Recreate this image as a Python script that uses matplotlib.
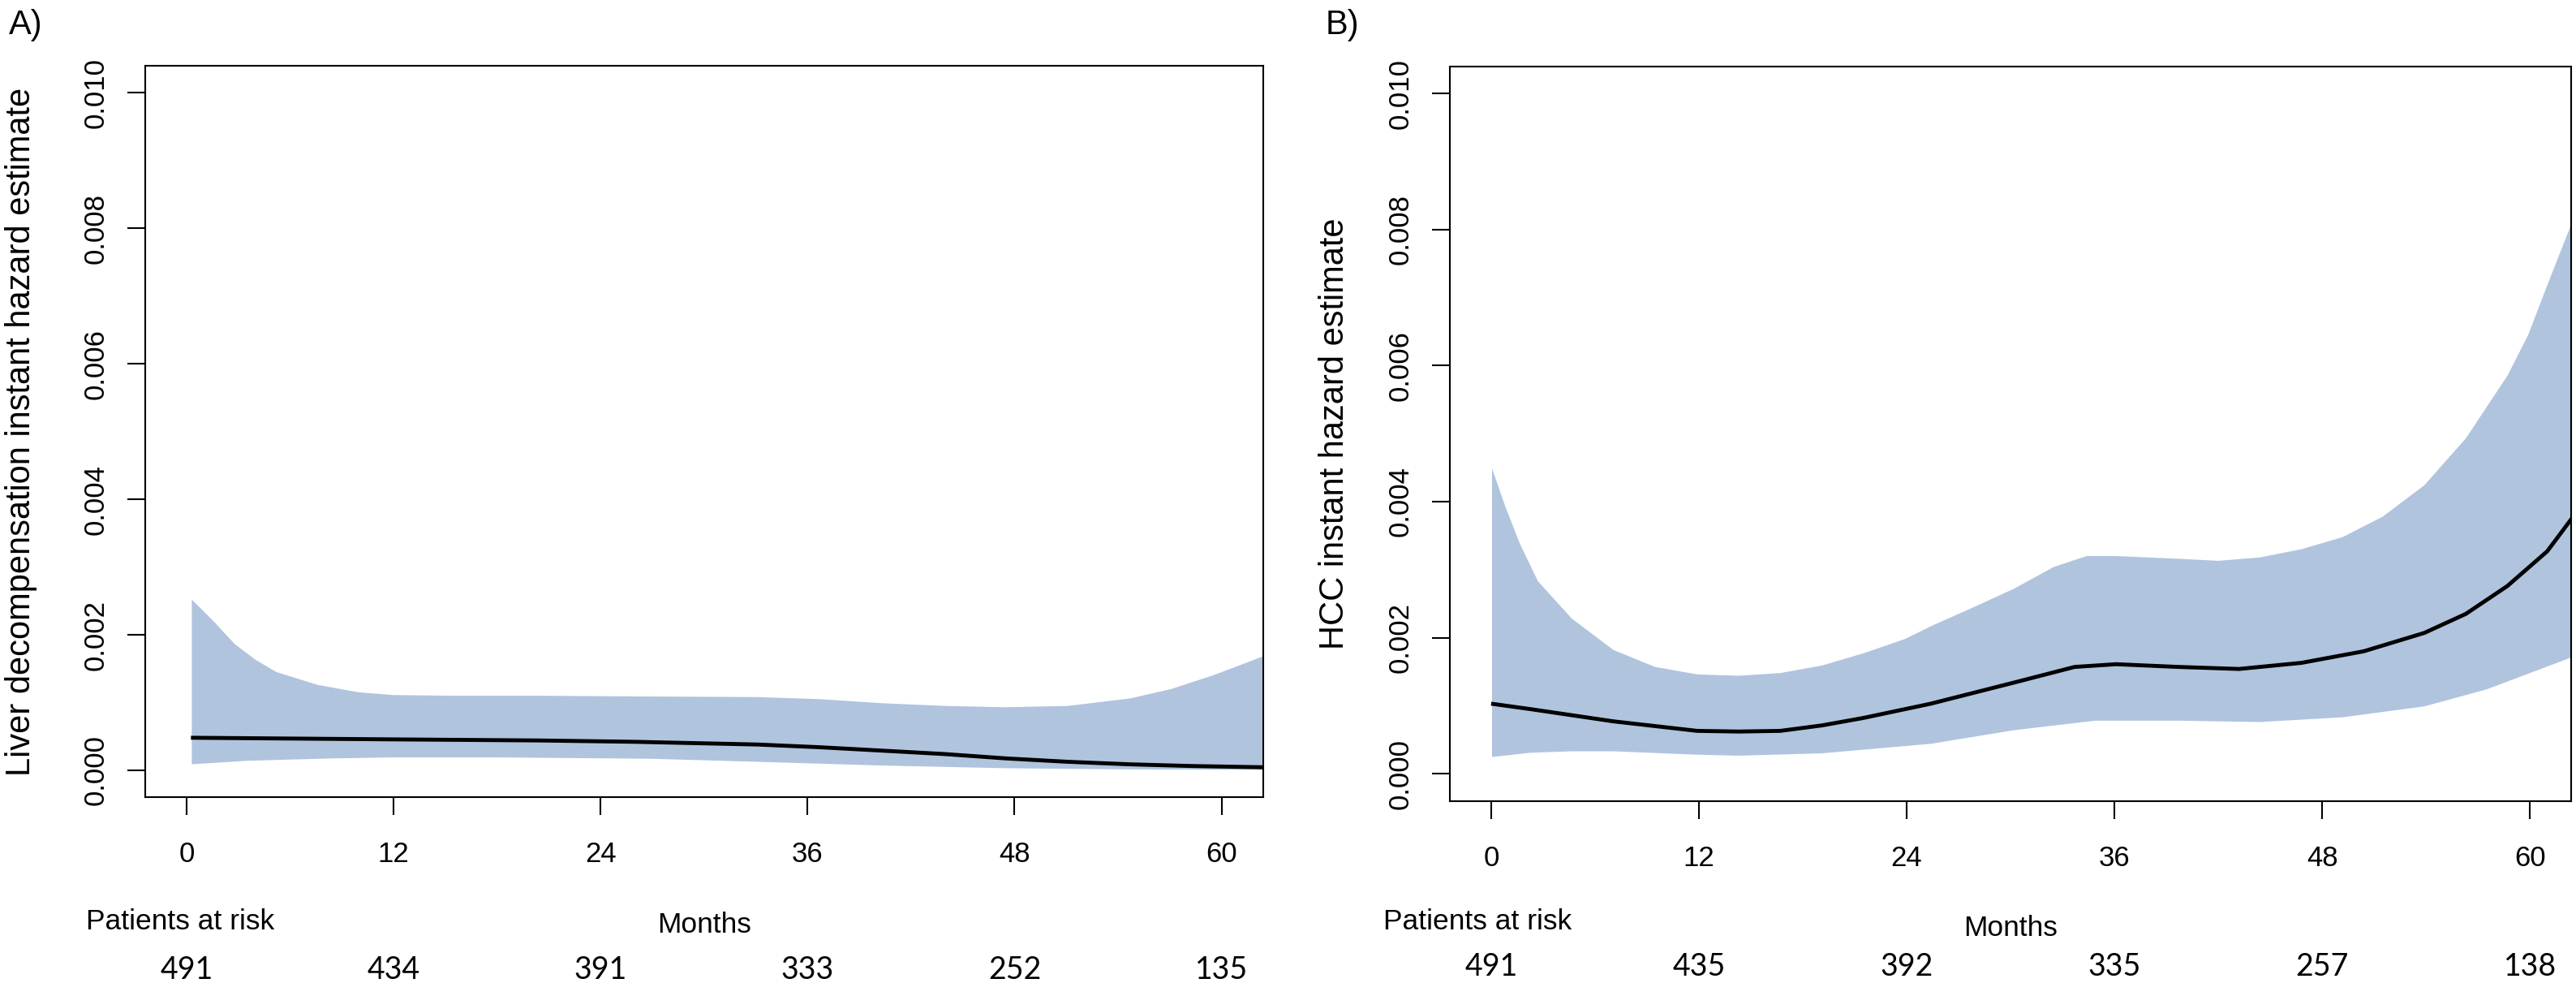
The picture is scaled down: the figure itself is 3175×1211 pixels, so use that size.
import matplotlib.pyplot as plt
import matplotlib.transforms as mtransforms
import numpy as np

# hazard curves (months, hazard)
a_up_x = [0.3, 1.6, 2.8, 4.0, 5.2, 7.6, 10.0, 12.0, 15.6, 20.4, 26.0, 33.1, 36.7, 40.3, 43.9, 47.5, 51.1, 54.7, 57.1, 59.5, 62.5]
a_up = [0.00252, 0.00219, 0.00186, 0.00163, 0.00145, 0.00126, 0.00115, 0.00111, 0.00110, 0.00110, 0.00109,
        0.00108, 0.00105, 0.00099, 0.00095, 0.00093, 0.00095, 0.00106, 0.00120, 0.00140, 0.00169]
a_lo_x = [0.3, 3.5, 8.4, 12.0, 18.0, 26.9, 33.1, 40.3, 47.5, 54.7, 62.5]
a_lo = [0.000088, 0.00014, 0.000175, 0.00019, 0.00019, 0.00017, 0.000125, 0.00007, 0.00003, 0.000013, 0.000006]
a_est_x = [0.25, 12.0, 20.4, 26.0, 33.1, 36.7, 40.3, 43.9, 47.5, 51.1, 54.7, 58.3, 62.5]
a_est = [0.00048, 0.000456, 0.00044, 0.00042, 0.00038, 0.00034, 0.00029, 0.00024, 0.000175, 0.000125,
         0.0000875, 0.0000625, 0.000044]

b_up_x = [0.05, 0.8, 1.66, 2.7, 4.66, 7.06, 9.46, 11.9, 14.3, 16.7, 19.1, 21.5, 23.9, 25.5, 27.8, 30.2, 32.5,
          34.4, 36.1, 39.7, 42.0, 44.4, 46.8, 49.2, 51.5, 53.9, 56.3, 58.7, 59.9, 61.0, 62.5]
b_up = [0.00449, 0.00394, 0.00338, 0.00283, 0.00228, 0.00182, 0.00157, 0.00146, 0.00144, 0.00148, 0.00159,
        0.00177, 0.00198, 0.00218, 0.00244, 0.00272, 0.00304, 0.0032, 0.0032, 0.00316, 0.00313, 0.00318,
        0.0033, 0.00348, 0.00378, 0.00424, 0.00493, 0.00585, 0.00645, 0.00718, 0.00815]
b_lo_x = [0.05, 2.26, 4.66, 7.06, 11.9, 14.3, 19.1, 25.4, 30.2, 34.9, 39.7, 44.4, 49.2, 53.9, 57.5, 62.5]
b_lo = [0.000246, 0.000308, 0.00033, 0.00033, 0.00028, 0.000265, 0.0003, 0.00044, 0.00064, 0.00078, 0.00078,
        0.00076, 0.00083, 0.00099, 0.00124, 0.00172]
b_est_x = [0.0, 2.26, 7.06, 11.9, 14.3, 16.7, 19.1, 21.5, 25.4, 30.2, 33.7, 36.1, 39.7, 43.2, 46.8, 50.4,
           53.9, 56.3, 58.7, 61.0, 62.5]
b_est = [0.00103, 0.00095, 0.00077, 0.00063, 0.00062, 0.00063, 0.00071, 0.00082, 0.00103, 0.00134, 0.00157,
         0.00161, 0.00157, 0.00154, 0.00163, 0.0018, 0.00207, 0.00235, 0.00276, 0.00327, 0.00378]

months = [0, 12, 24, 36, 48, 60]
a_risk = [491, 434, 391, 333, 252, 135]
b_risk = [491, 435, 392, 335, 257, 138]
y_ticks = [0.000, 0.002, 0.004, 0.006, 0.008, 0.010]

W, H = 3175, 1211
band = '#B0C4DE'
plt.rcParams['font.family'] = ['Liberation Sans', 'DejaVu Sans']

fig = plt.figure(figsize=(W / 100, H / 100), dpi=100)


def rect(l, t, r, b):
    return [l / W, 1 - b / H, (r - l) / W, (b - t) / H]


def panel(box, ux, uy, lx, ly, ex, ey, risk, ylab, tag, tag_x, lab_x, risk_base, months_base, par_x):
    ax = fig.add_axes(rect(*box))
    ax.fill(np.concatenate([ux, lx[::-1]]), np.concatenate([uy, ly[::-1]]), color=band, lw=0)
    ax.plot(ex, ey, color='black', lw=3.5, solid_capstyle='butt')
    ax.set_xlim(-2.4, 62.4)
    ax.set_ylim(-0.0004, 0.0104)
    ax.set_xticks(months)
    ax.set_yticks(y_ticks)
    ax.set_yticklabels(['%.3f' % v for v in y_ticks])
    for s in ax.spines.values():
        s.set_linewidth(1.5)
    ax.tick_params(axis='both', direction='out', length=16, width=1.5, labelsize=25)
    ax.tick_params(axis='x', pad=23)
    ax.tick_params(axis='y', pad=21)
    plt.setp(ax.get_yticklabels(), rotation=90, rotation_mode='anchor', ha='center', va='baseline')

    y_mid = 1 - (box[1] + box[3]) / 2 / H
    fig.text(lab_x / W, y_mid, ylab, rotation=90, rotation_mode='anchor', ha='center', va='baseline',
             fontsize=30)
    fig.text(tag_x / W, 1 - 42 / H, tag, fontsize=30, ha='left', va='baseline')
    fig.text(par_x / W, 1 - 1145 / H, 'Patients at risk', fontsize=25.5, ha='left', va='baseline')
    fig.text((box[0] + box[2]) / 2 / W, 1 - months_base / H, 'Months', fontsize=25.5,
             ha='center', va='baseline')
    tr = mtransforms.blended_transform_factory(ax.transData, fig.transFigure)
    for m, n in zip(months, risk):
        ax.text(m, 1 - risk_base / H, str(n), transform=tr, ha='center', va='baseline',
                fontsize=27, family=['Lato', 'DejaVu Sans'], clip_on=False)
    return ax


panel((179, 81, 1556.6, 982.3), a_up_x, a_up, a_lo_x, a_lo, a_est_x, a_est, a_risk,
      'Liver decompensation instant hazard estimate', 'A)', 11, 36.7, 1206, 1149, 106)
panel((1786.7, 81.7, 3169.4, 986.7), b_up_x, b_up, b_lo_x, b_lo, b_est_x, b_est, b_risk,
      'HCC instant hazard estimate', 'B)', 1634, 1656.5, 1201.5, 1153, 1705)

fig.savefig('out.png', dpi=100)
